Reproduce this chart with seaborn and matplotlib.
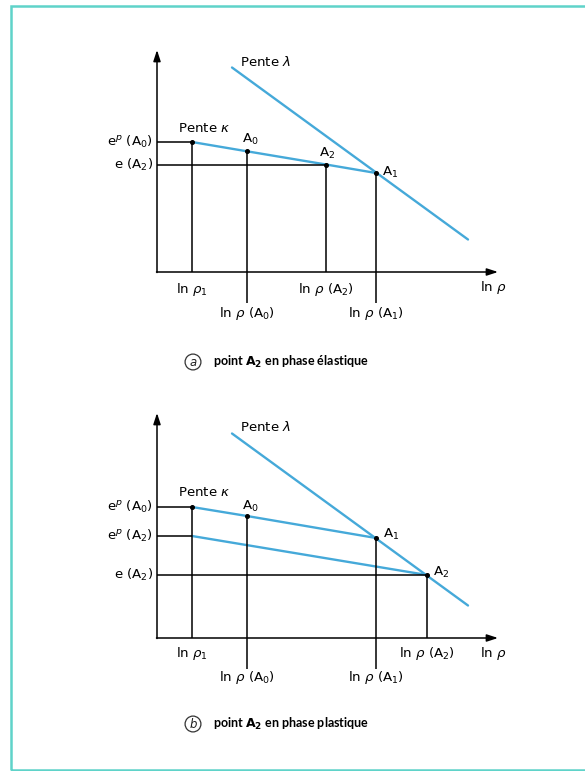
import matplotlib
matplotlib.use("Agg")
import matplotlib.pyplot as plt
import seaborn as sns
import pandas as pd
from matplotlib.patches import Rectangle

sns.set_theme(style="white")
plt.rcParams['font.family'] = ['DejaVu Sans']

BLUE = "#45a9d9"
FRAME = "#5fd3c9"
FS = 9.6

# ---- shared values: ln(rho) abscissae and void ratios ----
ln_rho_1 = 3.5
ln_rho_A0 = 9.0
ln_rho_A1 = 21.9

# critical/normal consolidation line, slope lambda
lambda_x = [7.5, 31.1]
lambda_e = [20.45, 3.25]

# ---- (a) A2 in the elastic range: one kappa line through A0, A2, A1 ----
a_kappa_x = [ln_rho_1, ln_rho_A0, 16.9, ln_rho_A1]
a_kappa_e = [13.0, 12.07, 10.75, 9.9]
a_ln_rho_A2 = 16.9
a_ep_A0 = 13.0
a_e_A2 = 10.75

# ---- (b) A2 in the plastic range: two parallel kappa lines ----
b_kappa_upper_x = [ln_rho_1, ln_rho_A0, ln_rho_A1]
b_kappa_upper_e = [13.1, 12.2, 10.0]
b_kappa_lower_x = [ln_rho_1, 27.0]
b_kappa_lower_e = [10.2, 6.3]
b_ln_rho_A2 = 27.0
b_ep_A0 = 13.1
b_ep_A2 = 10.2
b_e_A2 = 6.3

fig = plt.figure(figsize=(5.85, 7.71), dpi=100)
W, H = 585, 771


def px_axes(left, top, width, height):
    return fig.add_axes([left / W, 1 - (top + height) / H, width / W, height / H])


def blue_line(ax, xs, es):
    df = pd.DataFrame({"ln_rho": xs, "e": es})
    sns.lineplot(data=df, x="ln_rho", y="e", color=BLUE, lw=1.7, ax=ax,
                 sort=False, zorder=2)


def black(ax, xs, ys):
    ax.plot(xs, ys, color="black", lw=1.1, solid_capstyle="butt", zorder=3)


def dot(ax, x, y):
    ax.plot([x], [y], "o", color="black", ms=2.6, zorder=4)


def axes_arrows(ax, ytop):
    ax.annotate("", xy=(0, ytop), xytext=(0, -0.05),
                arrowprops=dict(arrowstyle="-|>,head_length=0.55,head_width=0.18",
                                color="black", lw=1.1, shrinkA=0, shrinkB=0))
    ax.annotate("", xy=(34.1, 0), xytext=(-0.05, 0),
                arrowprops=dict(arrowstyle="-|>,head_length=0.55,head_width=0.18",
                                color="black", lw=1.1, shrinkA=0, shrinkB=0))


def txt(ax, x, y, s, ha="center", va="center"):
    ax.text(x, y, s, ha=ha, va=va, fontsize=FS, color="black", zorder=5)


def finish(ax):
    ax.set_xlim(-10, 40)
    ax.set_ylim(-12, 24)
    ax.axis("off")


# ================= panel (a) =================
ax = px_axes(57, 32, 500, 360)
blue_line(ax, lambda_x, lambda_e)
blue_line(ax, a_kappa_x, a_kappa_e)
axes_arrows(ax, 22.2)
black(ax, [0, ln_rho_1], [a_ep_A0, a_ep_A0])
black(ax, [0, a_ln_rho_A2], [a_e_A2, a_e_A2])
black(ax, [ln_rho_1, ln_rho_1], [a_ep_A0, 0])
black(ax, [ln_rho_A0, ln_rho_A0], [a_kappa_e[1], -3.1])
black(ax, [a_ln_rho_A2, a_ln_rho_A2], [a_e_A2, 0])
black(ax, [ln_rho_A1, ln_rho_A1], [a_kappa_e[3], -3.1])
for x, e in zip(a_kappa_x, a_kappa_e):
    dot(ax, x, e)

txt(ax, 8.3, 21.0, r"Pente $\lambda$", ha="left")
txt(ax, 2.1, 14.4, r"Pente $\kappa$", ha="left")
txt(ax, 8.5, 13.3, r"A$_0$", ha="left")
txt(ax, 16.2, 11.9, r"A$_2$", ha="left")
txt(ax, 22.5, 10.0, r"A$_1$", ha="left")
txt(ax, -0.4, a_ep_A0, r"e$^p$ (A$_0$)", ha="right")
txt(ax, -0.4, a_e_A2, r"e (A$_2$)", ha="right")
txt(ax, ln_rho_1, -1.7, r"ln $\rho_1$")
txt(ax, a_ln_rho_A2, -1.7, r"ln $\rho$ (A$_2$)")
txt(ax, 33.6, -1.6, r"ln $\rho$")
txt(ax, ln_rho_A0, -4.1, r"ln $\rho$ (A$_0$)")
txt(ax, ln_rho_A1, -4.1, r"ln $\rho$ (A$_1$)")
finish(ax)

# ================= panel (b) =================
ax = px_axes(57, 398, 500, 360)
blue_line(ax, lambda_x, lambda_e)
blue_line(ax, b_kappa_upper_x, b_kappa_upper_e)
blue_line(ax, b_kappa_lower_x, b_kappa_lower_e)
axes_arrows(ax, 22.5)
black(ax, [0, ln_rho_1], [b_ep_A0, b_ep_A0])
black(ax, [0, ln_rho_1], [b_ep_A2, b_ep_A2])
black(ax, [0, b_ln_rho_A2], [b_e_A2, b_e_A2])
black(ax, [ln_rho_1, ln_rho_1], [b_ep_A0, 0])
black(ax, [ln_rho_A0, ln_rho_A0], [b_kappa_upper_e[1], -3.1])
black(ax, [ln_rho_A1, ln_rho_A1], [b_kappa_upper_e[2], -3.1])
black(ax, [b_ln_rho_A2, b_ln_rho_A2], [b_e_A2, 0])
for x, e in zip(b_kappa_upper_x, b_kappa_upper_e):
    dot(ax, x, e)
dot(ax, b_ln_rho_A2, b_e_A2)

txt(ax, 8.3, 21.1, r"Pente $\lambda$", ha="left")
txt(ax, 2.1, 14.6, r"Pente $\kappa$", ha="left")
txt(ax, 8.5, 13.2, r"A$_0$", ha="left")
txt(ax, 22.6, 10.4, r"A$_1$", ha="left")
txt(ax, 27.6, 6.6, r"A$_2$", ha="left")
txt(ax, -0.4, b_ep_A0, r"e$^p$ (A$_0$)", ha="right")
txt(ax, -0.4, b_ep_A2, r"e$^p$ (A$_2$)", ha="right")
txt(ax, -0.4, b_e_A2, r"e (A$_2$)", ha="right")
txt(ax, ln_rho_1, -1.6, r"ln $\rho_1$")
txt(ax, b_ln_rho_A2, -1.6, r"ln $\rho$ (A$_2$)")
txt(ax, 33.6, -1.5, r"ln $\rho$")
txt(ax, ln_rho_A0, -4.0, r"ln $\rho$ (A$_0$)")
txt(ax, ln_rho_A1, -4.0, r"ln $\rho$ (A$_1$)")
finish(ax)

# ---- captions ----
captions = [("a", "point $\\mathbf{A_2}$ en phase élastique", 362),
            ("b", "point $\\mathbf{A_2}$ en phase plastique", 724)]
for letter, text, ypx in captions:
    fig.text(193 / W, 1 - ypx / H, letter, ha="center", va="center",
             fontsize=8.5, style="italic", color="#222222",
             bbox=dict(boxstyle="circle,pad=0.12", fc="none", ec="#333333", lw=0.9))
    fig.text(213 / W, 1 - ypx / H, text, ha="left", va="center",
             fontsize=9.0, fontweight="bold", color="black",
             family=["Lato", "DejaVu Sans"])

# ---- frame ----
fig.patches.append(Rectangle((11 / W, 1 - 769.5 / H), (W + 20) / W, (769.5 - 5.5) / H,
                             transform=fig.transFigure, fill=False,
                             ec=FRAME, lw=1.8, zorder=10))

fig.savefig("out.png", dpi=100, facecolor="white")
